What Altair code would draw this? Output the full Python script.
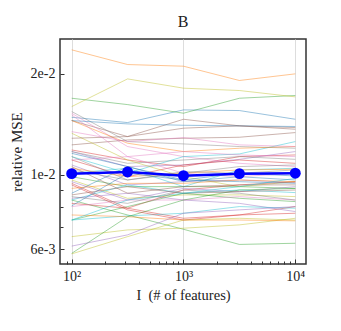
import altair as alt
import pandas as pd

FEATURES = [100, 316, 1000, 3162, 10000]
MEAN_MSE = [0.01009, 0.01021, 0.00995, 0.01009, 0.01012]
RUNS = [
    [0.01485, 0.01432, 0.01562, 0.01555, 0.01465],
    [0.02358, 0.02132, 0.02108, 0.01911, 0.02000],
    [0.01692, 0.01620, 0.01527, 0.01692, 0.01724],
    [0.01187, 0.01108, 0.01059, 0.01134, 0.01147],
    [0.01174, 0.01059, 0.01071, 0.01113, 0.01174],
    [0.01452, 0.01301, 0.01465, 0.01400, 0.01384],
    [0.01527, 0.01215, 0.01134, 0.01083, 0.01059],
    [0.01545, 0.01257, 0.01237, 0.01215, 0.01201],
    [0.01598, 0.01932, 0.01813, 0.01784, 0.01708],
    [0.01134, 0.01012, 0.01134, 0.01155, 0.01257],
    [0.01452, 0.01419, 0.01406, 0.01400, 0.01394],
    [0.01452, 0.01243, 0.01174, 0.01201, 0.01215],
    [0.00988, 0.00923, 0.00923, 0.00923, 0.00912],
    [0.01108, 0.00988, 0.01071, 0.01108, 0.01083],
    [0.01071, 0.00934, 0.00955, 0.00966, 0.00949],
    [0.01229, 0.01271, 0.01286, 0.01295, 0.01337],
    [0.01346, 0.01257, 0.01292, 0.01229, 0.01215],
    [0.01174, 0.01083, 0.01108, 0.01134, 0.01113],
    [0.01331, 0.01108, 0.00988, 0.00923, 0.00955],
    [0.01012, 0.01047, 0.00923, 0.01035, 0.01047],
    [0.01160, 0.01059, 0.00955, 0.00988, 0.00966],
    [0.01047, 0.00988, 0.01012, 0.01035, 0.01040],
    [0.00842, 0.00760, 0.00689, 0.00621, 0.00626],
    [0.00944, 0.00796, 0.00902, 0.00934, 0.00955],
    [0.00955, 0.00842, 0.00912, 0.00892, 0.00923],
    [0.01286, 0.01301, 0.01378, 0.01400, 0.01368],
    [0.01108, 0.01134, 0.01012, 0.00988, 0.01012],
    [0.01035, 0.00966, 0.01023, 0.01012, 0.01035],
    [0.00966, 0.00852, 0.00872, 0.00872, 0.00862],
    [0.00842, 0.00934, 0.00882, 0.00902, 0.00886],
    [0.00882, 0.01059, 0.00966, 0.01012, 0.00993],
    [0.00912, 0.00944, 0.00944, 0.00966, 0.00955],
    [0.00734, 0.00805, 0.00882, 0.00852, 0.00833],
    [0.00823, 0.00796, 0.00743, 0.00760, 0.00805],
    [0.00852, 0.00882, 0.00842, 0.00823, 0.00778],
    [0.01059, 0.00882, 0.00923, 0.00934, 0.00934],
    [0.00805, 0.00842, 0.00842, 0.00862, 0.00842],
    [0.00862, 0.00823, 0.00902, 0.00882, 0.00842],
    [0.00655, 0.00686, 0.00694, 0.00710, 0.00743],
    [0.00734, 0.00755, 0.00769, 0.00805, 0.00796],
    [0.00809, 0.01012, 0.00966, 0.00955, 0.00944],
    [0.00760, 0.00751, 0.00734, 0.00734, 0.00730],
    [0.00584, 0.00751, 0.00842, 0.00902, 0.00912],
    [0.00934, 0.00787, 0.00734, 0.00760, 0.00769],
    [0.00614, 0.00663, 0.00769, 0.00787, 0.00805],
    [0.00872, 0.00923, 0.00882, 0.00892, 0.00902],
    [0.01510, 0.01134, 0.01174, 0.01147, 0.01134],
    [0.01134, 0.00966, 0.01012, 0.01059, 0.01071],
    [0.00582, 0.00655, 0.00734, 0.00743, 0.00734],
    [0.00734, 0.00842, 0.00882, 0.00923, 0.00977],
]
X_LABEL_VALUES = [100, 1000, 10000]
X_LABEL_TEXT = ["10\u00b2", "10\u00b3", "10\u2074"]
X_MINOR = [90, 200, 300, 400, 500, 600, 700, 800, 900,
           2000, 3000, 4000, 5000, 6000, 7000, 8000, 9000]
Y_LABEL_VALUES = [0.02, 0.01, 0.006]
Y_LABEL_TEXT = ["2e-2", "1e-2", "6e-3"]
Y_MINOR = [0.009, 0.008, 0.007]

rows = []
for i, run in enumerate(RUNS):
    for f, v in zip(FEATURES, run):
        rows.append({"run": f"r{i:02d}", "features": f, "mse": v})
runs_df = pd.DataFrame(rows)
mean_df = pd.DataFrame({"features": FEATURES, "mse": MEAN_MSE})

FONT = "Liberation Serif"
TXT = "#222222"
FRAME = "#333333"
PALETTE = ["#1f77b4", "#ff7f0e", "#2ca02c", "#d62728", "#9467bd",
           "#8c564b", "#e377c2", "#7f7f7f", "#bcbd22", "#17becf"]

xs = alt.Scale(type="log", domain=[78.6, 12470], nice=False)
ys = alt.Scale(type="log", domain=[0.00543, 0.0254], nice=False)

x_expr = " : ".join(
    f"datum.value == {v} ? '{t}'" for v, t in zip(X_LABEL_VALUES[:-1], X_LABEL_TEXT[:-1])
) + f" : '{X_LABEL_TEXT[-1]}'"
y_expr = " : ".join(
    f"datum.value == {v} ? '{t}'" for v, t in zip(Y_LABEL_VALUES[:-1], Y_LABEL_TEXT[:-1])
) + f" : '{Y_LABEL_TEXT[-1]}'"

x_main = alt.Axis(orient="bottom", values=X_LABEL_VALUES, labelExpr=x_expr,
                  title="I \u00a0(# of features)", grid=True, gridColor="#dddddd",
                  gridWidth=1, ticks=False, tickSize=0, domain=False,
                  labelPadding=5, labelFont=FONT, labelFontSize=14, labelColor=TXT,
                  titleFont=FONT, titleFontSize=14.5, titleFontWeight="normal",
                  titleColor=TXT, titlePadding=5)
y_main = alt.Axis(orient="left", values=Y_LABEL_VALUES, labelExpr=y_expr,
                  title="relative MSE", grid=False, ticks=False, tickSize=0,
                  domain=False, labelPadding=5, labelFont=FONT, labelFontSize=14,
                  labelColor=TXT, titleFont=FONT, titleFontSize=15,
                  titleFontWeight="normal", titleColor=TXT, titlePadding=6)
x_major = alt.Axis(orient="bottom", values=X_LABEL_VALUES, labels=False, domain=False,
                   grid=False, ticks=True, tickSize=5, offset=-5, tickColor=FRAME,
                   tickWidth=1, title="")
y_major = alt.Axis(orient="left", values=Y_LABEL_VALUES, labels=False, domain=False,
                   grid=False, ticks=True, tickSize=4, offset=-4, tickColor=FRAME,
                   tickWidth=1, title="")
x_minor = alt.Axis(orient="bottom", values=X_MINOR, labels=False, domain=False,
                   grid=False, ticks=True, tickSize=3, offset=-3, tickColor=FRAME,
                   tickWidth=1, title="")
y_minor = alt.Axis(orient="left", values=Y_MINOR, labels=False, domain=False,
                   grid=False, ticks=True, tickSize=3, offset=-3, tickColor=FRAME,
                   tickWidth=1, title="")

thin = alt.Chart(runs_df).mark_line(strokeWidth=1, opacity=0.45).encode(
    x=alt.X("features:Q", scale=xs, axis=x_main),
    y=alt.Y("mse:Q", scale=ys, axis=y_main),
    color=alt.Color("run:N", scale=alt.Scale(range=PALETTE), legend=None),
)
mean_line = alt.Chart(mean_df).mark_line(color="#0000ff", strokeWidth=2.5).encode(
    x=alt.X("features:Q", scale=xs, axis=x_major),
    y=alt.Y("mse:Q", scale=ys, axis=y_major),
)
mean_pts = alt.Chart(mean_df).mark_circle(color="#0000ff", size=120, opacity=1).encode(
    x=alt.X("features:Q", scale=xs, axis=x_minor),
    y=alt.Y("mse:Q", scale=ys, axis=y_minor),
)

chart = alt.layer(thin, mean_line, mean_pts).resolve_axis(
    x="independent", y="independent"
).properties(
    width=246, height=225,
    title=alt.TitleParams("B", font=FONT, fontSize=16, fontWeight="normal",
                          color=TXT, offset=9),
    autosize=alt.AutoSizeParams(type="none"),
    padding={"left": 52, "top": 31, "right": 27, "bottom": 59},
).configure_view(stroke=FRAME, strokeWidth=1.5)

chart.save("out.html", embed_options={"renderer": "svg", "actions": False})
